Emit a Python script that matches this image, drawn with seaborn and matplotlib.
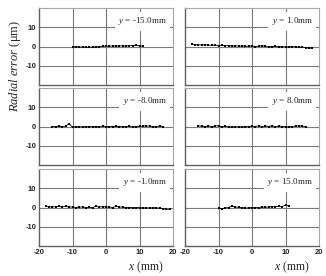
import matplotlib
matplotlib.use("Agg")
import matplotlib.pyplot as plt
import seaborn as sns
import pandas as pd

sns.set_theme(style="white")
plt.rcParams['font.family'] = ['Liberation Serif', 'DejaVu Sans']
plt.rcParams['mathtext.fontset'] = 'custom'
plt.rcParams['mathtext.it'] = 'Liberation Serif:italic'
plt.rcParams['mathtext.rm'] = 'Liberation Serif'

# ---- data ----
panel_labels = ["-15.0", "1.0", "-8.0", "8.0", "-1.0", "15.0"]

x_m15 = [-10, -9, -8, -7, -6, -5, -4, -3, -2, -1, 0, 1, 2, 3, 4, 5, 6, 7, 8, 9, 10, 11]
e_m15 = [0.0, -0.2, -0.3, -0.3, -0.4, -0.3, -0.4, -0.2, -0.1, 0.1, 0.2, 0.2,
         0.3, 0.2, 0.3, 0.4, 0.3, 0.4, 0.5, 0.6, 0.4, 0.2]

x_p1 = [-18, -17, -16, -15, -14, -13, -12, -11, -10, -9, -8, -7, -6, -5, -4, -3, -2, -1, 0,
        1, 2, 3, 4, 5, 6, 7, 8, 9, 10, 11, 12, 13, 14, 15, 16, 17, 18]
e_p1 = [1.3, 1.0, 0.9, 0.8, 0.9, 0.7, 0.6, 0.8, 0.5, 0.6, 0.4, 0.5, 0.3, 0.4, 0.2, 0.3, 0.1, 0.2, 0.3,
        0.0, 0.2, 0.4, 0.1, 0.0, -0.1, 0.1, -0.2, 0.0, -0.3, -0.1, -0.2, 0.0, -0.4, -0.3, -0.6, -0.8, -0.9]

x_m8 = [-16, -15, -14, -13, -12, -11, -10, -9, -8, -7, -6, -5, -4, -3, -2, -1, 0,
        1, 2, 3, 4, 5, 6, 7, 8, 9, 10, 11, 12, 13, 14, 15, 16, 17]
e_m8 = [0.0, 0.0, 0.1, 0.0, 0.2, 1.5, -0.4, 0.0, -0.3, -0.1, -0.2, 0.0, -0.1, 0.0, 0.0, 0.1, -0.1,
        0.0, 0.0, 0.1, 0.0, -0.1, 0.0, 0.1, -0.3, 0.0, 0.1, 0.2, 0.3, 0.2, -0.1, 0.0, 0.1, 0.0]

x_p8 = [-16, -15, -14, -13, -12, -11, -10, -9, -8, -7, -6, -5, -4, -3, -2, -1, 0,
        1, 2, 3, 4, 5, 6, 7, 8, 9, 10, 11, 12, 13, 14, 15, 16]
e_p8 = [0.4, 0.1, 0.0, 0.3, -0.1, 0.2, 0.4, -0.2, 0.1, -0.3, -0.2, -0.1, -0.3, -0.2, 0.0, -0.1, 0.2,
        0.0, 0.4, -0.1, 0.3, 0.0, 0.5, -0.2, 0.3, 0.0, -0.1, -0.2, 0.0, 0.2, 0.4, 0.1, 0.0]

x_m1 = [-18, -17, -16, -15, -14, -13, -12, -11, -10, -9, -8, -7, -6, -5, -4, -3, -2, -1, 0,
        1, 2, 3, 4, 5, 6, 7, 8, 9, 10, 11, 12, 13, 14, 15, 16, 17, 18, 19]
e_m1 = [0.7, 0.5, 0.3, 0.4, 0.6, 0.4, 0.6, 0.2, 0.3, 0.0, 0.2, 0.3, 0.0, 0.1, 0.0, 0.6, 0.2, 0.5,
        0.3, 0.2, 0.0, 0.6, 0.3, 0.1, 0.0, 0.0, -0.1, -0.1, 0.0, -0.2, -0.1, -0.3, -0.1, -0.2,
        -0.3, -0.6, -0.9, -1.0]

x_p15 = [-10, -9, -8, -7, -6, -5, -4, -3, -2, -1, 0, 1, 2, 3, 4, 5, 6, 7, 8, 9, 10, 11]
e_p15 = [-0.5, -0.6, -0.3, 0.0, 0.8, 0.2, 0.1, 0.0, -0.3, -0.2, 0.0, -0.1, 0.0, 0.2, 0.1, 0.3,
         0.5, 0.4, 0.6, 0.5, 1.2, 0.8]

series = {"-15.0": (x_m15, e_m15), "1.0": (x_p1, e_p1), "-8.0": (x_m8, e_m8),
          "8.0": (x_p8, e_p8), "-1.0": (x_m1, e_m1), "15.0": (x_p15, e_p15)}

rows = []
for lab, (xs, es) in series.items():
    for xv, ev in zip(xs, es):
        rows.append({"panel": lab, "x": xv, "err": ev})
df = pd.DataFrame(rows)

y_ticks = [-10, 0, 10]
x_ticks = [-20, -10, 0, 10, 20]
x_ticklabels = ["-20", "-10", "0", "10", "20"]

# ---- figure ----
W, H = 326, 276
fig = plt.figure(figsize=(W / 100, H / 100), dpi=100)

col_left = [39, 185]
ax_w = 134
row_top = [8, 88, 169]
ax_h = 77

grid_c = "#7a7a7a"
for i, lab in enumerate(panel_labels):
    r, c = divmod(i, 2)
    left = col_left[c] / W
    bottom = 1 - (row_top[r] + ax_h) / H
    ax = fig.add_axes([left, bottom, ax_w / W, ax_h / H])
    sub = df[df["panel"] == lab]
    sns.lineplot(data=sub, x="x", y="err", ax=ax, color="black", linewidth=0.6,
                 marker="s", markersize=1.8, markeredgewidth=0, sort=False)
    ax.set_xlim(-20, 20)
    ax.set_ylim(-20, 20)
    ax.set_xticks([-10, 0, 10], minor=False)
    ax.set_yticks(y_ticks)
    ax.grid(True, color=grid_c, linewidth=0.8)
    ax.set_axisbelow(True)
    for s in ["top", "right"]:
        ax.spines[s].set_color("#a8a8a8")
        ax.spines[s].set_linewidth(0.8)
    for s in ["left", "bottom"]:
        ax.spines[s].set_color("#606060")
        ax.spines[s].set_linewidth(1.0)
    ax.tick_params(length=0, pad=2)
    ax.set_xlabel("")
    ax.set_ylabel("")
    if c == 0:
        ax.set_yticklabels([str(t) for t in y_ticks], fontsize=5.5,
                           family=['Liberation Sans Narrow', 'Liberation Sans'], fontweight='bold')
    else:
        ax.set_yticklabels([])
    if r == 2:
        ax.set_xticks(x_ticks)
        ax.set_xticklabels(x_ticklabels, fontsize=5.5,
                           family=['Liberation Sans Narrow', 'Liberation Sans'], fontweight='bold')
        ax.grid(False)
        for gx in [-10, 0, 10]:
            ax.axvline(gx, color=grid_c, linewidth=0.8, zorder=0)
        for gy in y_ticks:
            ax.axhline(gy, color=grid_c, linewidth=0.8, zorder=0)
        ax.text(0.8, -0.28, r"$x$ (mm)", transform=ax.transAxes, ha="center", va="center",
                fontsize=8.5)
    else:
        ax.set_xticklabels([])
    ax.text(0.955, 0.83, r"$y$ = " + lab + "mm", transform=ax.transAxes, ha="right",
            va="center", fontsize=6.5,
            bbox=dict(facecolor="white", edgecolor="none", pad=2.5))

fig.text(15 / W, 1 - 66 / H, r"$Radial\ error$ ($\mathrm{\mu}$m)", rotation=90,
         ha="center", va="center", fontsize=9)

fig.savefig("out.png", dpi=100)
